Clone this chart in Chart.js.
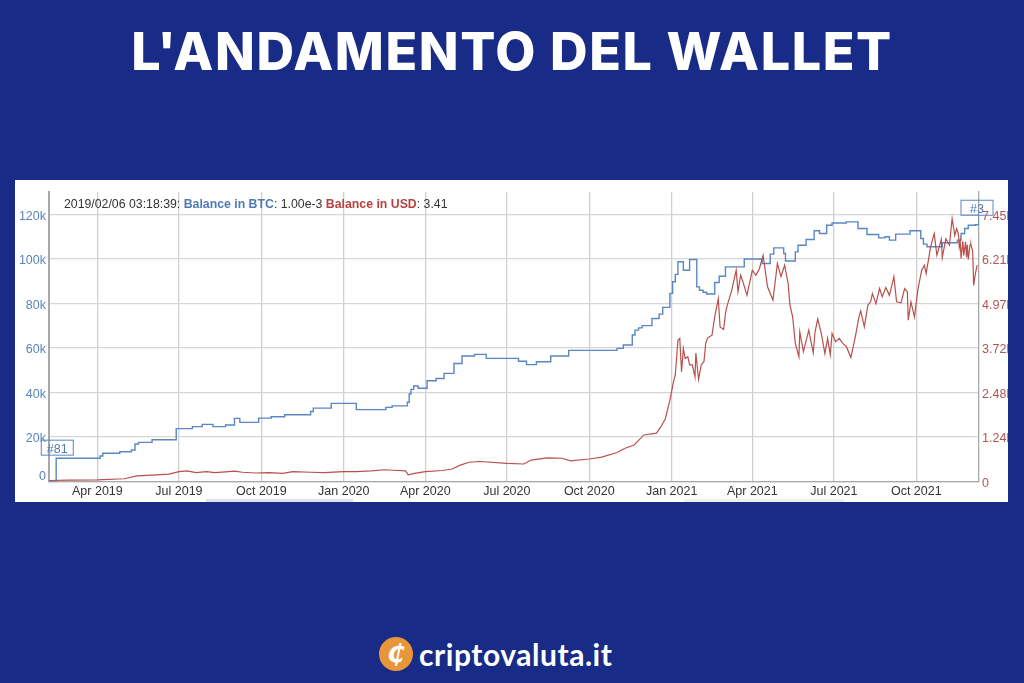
<!DOCTYPE html>
<html>
<head>
<meta charset="utf-8">
<title>L'andamento del wallet</title>
<script src="https://cdn.jsdelivr.net/npm/chart.js@4"></script>
<style>
html, body { margin: 0; padding: 0; background: #182c87; width: 1024px; height: 683px; overflow: hidden; }
#title { position: absolute; left: 0; top: 11px; width: 1024px; text-align: center; color: #fff;
  font: 800 52px Inter, sans-serif; letter-spacing: 1.6px; line-height: 82px; white-space: nowrap; }
#panel { position: absolute; left: 15px; top: 180px; width: 993px; height: 322px; background: #fff; overflow: hidden; }
#panel canvas { position: absolute; left: 0; top: 0; filter: blur(0.35px); }
#legend { position: absolute; left: 49px; top: 17px; font: 12.3px "Liberation Sans", sans-serif; color: #333; white-space: nowrap; }
#legend .b { color: #4f7ab5; font-weight: bold; }
#legend .r { color: #b5433f; font-weight: bold; }
.scroll { position: absolute; top: 319px; height: 3px; background: #dfe2ea; }
#logo { position: absolute; left: 379px; top: 637px; width: 34px; height: 34px; border-radius: 50%; background: #e8963a;
  color: #fff; font: italic bold 25px/34px "DejaVu Sans", sans-serif; text-align: center; }
#brand { position: absolute; left: 419px; top: 634px; color: #fff; font: bold 30px/40px Lato, sans-serif; letter-spacing: .55px; white-space: nowrap; }
</style>
</head>
<body>
<div id="title">L'ANDAMENTO DEL WALLET</div>
<div id="panel">
  <canvas id="walletChart" width="1040" height="322"></canvas>
  <div id="legend">2019/02/06 03:18:39: <span class="b">Balance in BTC</span>: 1.00e-3 <span class="r">Balance in USD</span>: 3.41</div>
  <div class="scroll" style="left:191px;width:147px"></div>
  <div class="scroll" style="left:669px;width:160px;background:#eceef2"></div>
</div>
<div id="logo">₵</div>
<div id="brand">criptovaluta.it</div>

<script>
const xTickDates = ["2019-04-01", "2019-07-01", "2019-10-01", "2020-01-01", "2020-04-01", "2020-07-01", "2020-10-01", "2021-01-01", "2021-04-01", "2021-07-01", "2021-10-01"]
const xTickLabels = ["Apr 2019", "Jul 2019", "Oct 2019", "Jan 2020", "Apr 2020", "Jul 2020", "Oct 2020", "Jan 2021", "Apr 2021", "Jul 2021", "Oct 2021"]

const btcTicks = [0, 20000, 40000, 60000, 80000, 100000, 120000]
const btcTickLabels = ["0", "20k", "40k", "60k", "80k", "100k", "120k"]
const usdTicks = [0, 1.2417, 2.4833, 3.725, 4.9667, 6.2083, 7.45]
const usdTickLabels = ["0", "1.24B", "2.48B", "3.72B", "4.97B", "6.21B", "7.45B"]

// btc balance, each date is where the balance steps to the new value
const btcDates = ["2019-02-06", "2019-02-13", "2019-02-14", "2019-04-04", "2019-04-07", "2019-04-26", "2019-05-09", "2019-05-13", "2019-05-17", "2019-06-01", "2019-06-28", "2019-07-16", "2019-07-27", "2019-08-08", "2019-08-22", "2019-09-01", "2019-09-07", "2019-09-28", "2019-10-12", "2019-10-27", "2019-11-25", "2019-11-28", "2019-12-18",
  "2020-01-15", "2020-02-17", "2020-02-24", "2020-03-12", "2020-03-14", "2020-03-16", "2020-03-19", "2020-03-24", "2020-04-03", "2020-04-13", "2020-04-22", "2020-05-03", "2020-05-09", "2020-05-12", "2020-05-26", "2020-06-08", "2020-07-14", "2020-07-23", "2020-08-03", "2020-08-19", "2020-09-08", "2020-11-01", "2020-11-08", "2020-11-18", "2020-11-21", "2020-11-25", "2020-11-29", "2020-12-10", "2020-12-18", "2020-12-22", "2020-12-30", "2021-01-02", "2021-01-05", "2021-01-08",
  "2021-01-14", "2021-01-21", "2021-01-29", "2021-02-01", "2021-02-05", "2021-02-09", "2021-02-18", "2021-02-23", "2021-03-02", "2021-03-23", "2021-04-12", "2021-04-21", "2021-04-25", "2021-05-06", "2021-05-08", "2021-05-19", "2021-05-22", "2021-05-31", "2021-06-09", "2021-06-15", "2021-06-23", "2021-06-29", "2021-07-15", "2021-07-28", "2021-08-07", "2021-08-20", "2021-08-27", "2021-09-01", "2021-09-08", "2021-09-24", "2021-10-06", "2021-10-09", "2021-10-13", "2021-10-30", "2021-11-16", "2021-11-20", "2021-11-24", "2021-11-28", "2021-12-06", "2021-12-10"]
const btcValues = [1, 1, 10500, 11500, 12700, 13400, 14200, 16900, 17600, 18800, 23800, 24700, 25700, 24700, 25400, 28400, 26600, 28500, 29100, 30000, 31500, 33000, 35100,
  32300, 33300, 34000, 35600, 39300, 41400, 42900, 41900, 45300, 46300, 48600, 53000, 53000, 56400, 57100, 55300, 54000, 52500, 53800, 56400, 58900, 59800, 61300, 65800, 68000, 69000, 70000, 73200, 75200, 78200, 84500, 89700, 93000, 98700,
  94900, 99700, 87400, 85900, 85000, 84200, 89400, 92200, 96400, 99900, 97900, 102100, 104900, 102400, 99000, 103100, 106100, 108700, 112600, 111400, 115100, 116100, 116600, 113600, 110900, 109400, 109900, 108400, 111100, 112600, 109100, 106600, 105400, 107200, 108400, 111400, 113600, 115100, 115300, 120300]

// usd balance in billions
const usdDates = ["2019-02-06", "2019-03-01", "2019-04-01", "2019-05-01", "2019-05-15", "2019-06-01", "2019-06-20", "2019-07-01", "2019-07-10", "2019-07-20", "2019-08-01", "2019-08-10", "2019-08-22", "2019-09-01", "2019-09-10", "2019-09-25", "2019-10-10", "2019-10-25", "2019-11-05", "2019-11-25", "2019-12-10", "2020-01-01",
  "2020-01-15", "2020-02-01", "2020-02-15", "2020-03-01", "2020-03-10", "2020-03-13", "2020-03-20", "2020-04-01", "2020-04-20", "2020-05-01", "2020-05-10", "2020-05-20", "2020-06-01", "2020-07-01", "2020-07-20", "2020-07-28", "2020-08-15", "2020-09-01", "2020-09-10", "2020-10-01", "2020-10-15", "2020-11-01", "2020-11-10", "2020-11-20", "2020-12-01", "2020-12-15", "2020-12-20", "2020-12-25", "2020-12-30",
  "2021-01-03", "2021-01-05", "2021-01-08", "2021-01-10", "2021-01-12", "2021-01-14", "2021-01-16", "2021-01-19", "2021-01-21", "2021-01-24", "2021-01-27", "2021-01-28", "2021-01-31", "2021-02-03", "2021-02-06", "2021-02-08", "2021-02-10", "2021-02-15", "2021-02-18", "2021-02-22", "2021-02-24", "2021-02-28", "2021-03-02", "2021-03-04", "2021-03-09", "2021-03-14", "2021-03-16", "2021-03-19", "2021-03-22", "2021-03-26", "2021-04-01", "2021-04-05", "2021-04-09", "2021-04-13", "2021-04-18", "2021-04-24", "2021-04-29", "2021-05-03", "2021-05-07", "2021-05-11", "2021-05-13", "2021-05-16", "2021-05-19", "2021-05-23", "2021-05-24", "2021-05-28", "2021-06-03", "2021-06-08", "2021-06-10", "2021-06-13", "2021-06-17", "2021-06-21", "2021-06-24", "2021-06-27", "2021-06-29", "2021-07-03", "2021-07-07", "2021-07-11", "2021-07-15", "2021-07-20", "2021-07-25", "2021-07-29", "2021-07-31", "2021-08-04", "2021-08-08", "2021-08-11", "2021-08-13", "2021-08-17", "2021-08-21", "2021-08-24", "2021-08-28", "2021-09-01", "2021-09-06", "2021-09-09", "2021-09-14", "2021-09-18", "2021-09-21", "2021-09-22", "2021-09-25", "2021-09-29", "2021-10-03", "2021-10-07", "2021-10-10", "2021-10-12", "2021-10-17", "2021-10-21", "2021-10-24", "2021-10-29", "2021-10-30", "2021-11-03", "2021-11-07", "2021-11-10", "2021-11-13", "2021-11-15", "2021-11-17", "2021-11-18", "2021-11-19", "2021-11-20", "2021-11-22", "2021-11-23", "2021-11-25", "2021-11-26", "2021-11-27", "2021-11-28", "2021-11-30", "2021-12-01", "2021-12-02", "2021-12-03", "2021-12-04", "2021-12-06", "2021-12-08"]
const usdValues = [0.03, 0.04, 0.05, 0.08, 0.16, 0.18, 0.21, 0.28, 0.3, 0.25, 0.28, 0.25, 0.27, 0.29, 0.26, 0.24, 0.25, 0.23, 0.28, 0.26, 0.25, 0.28,
  0.28, 0.3, 0.33, 0.31, 0.3, 0.19, 0.23, 0.28, 0.31, 0.35, 0.46, 0.54, 0.56, 0.51, 0.49, 0.6, 0.66, 0.65, 0.58, 0.63, 0.68, 0.81, 0.93, 1.02, 1.3, 1.35, 1.53, 1.76, 2.27,
  2.78, 2.97, 3.94, 3.99, 3.06, 3.71, 3.43, 3.48, 3.25, 3.25, 2.92, 3.58, 2.85, 3.25, 3.34, 3.85, 4.0, 4.08, 4.59, 5.1, 4.31, 4.24, 4.69, 4.91, 5.33, 5.89, 5.29, 5.75, 5.53, 5.19, 5.89, 5.75, 5.94, 6.31, 5.43, 5.06, 6.08, 5.71, 6.03, 5.52, 4.92, 4.59, 3.85, 3.48, 4.17, 3.62, 4.22, 3.59, 4.17, 4.53, 4.13, 3.57, 3.99, 3.53, 4.13, 3.9, 3.99, 3.85, 3.76, 3.46, 4.04, 4.59, 4.76, 4.31, 4.92, 5.01, 5.24, 4.96, 5.38, 5.15, 5.41, 5.19, 5.71, 5.01, 4.98, 5.38, 5.29, 4.5, 5.01, 4.59, 5.38, 5.89, 6.03, 5.8, 6.54, 6.91, 6.31, 6.75, 6.24, 6.77, 6.59, 7.33, 6.86, 7.05, 6.9, 6.54, 6.7, 6.22, 6.7, 6.3, 6.68, 6.25, 6.6, 6.19, 6.6, 6.62, 6.5, 6.4, 5.47, 5.8, 6.03]

const xStart = "2019-02-06"
const xEnd = "2021-12-10"
const btcMax = 130000
const usdMax = 8.07

function toPoints(dates, values) {
    return dates.map((d, i) => ({ x: Date.parse(d), y: values[i] }))
}

function setTicks(values) {
    return function (scale) {
        scale.ticks = values.map(v => ({ value: v }))
    }
}

// little #81 and #3 flags sitting on the blue line, plus the 0 label that sits a bit above the axis
const flagPlugin = {
    id: "flags",
    afterDatasetsDraw(chart) {
        const c = chart.ctx
        const x = chart.scales.x
        const y = chart.scales.yBtc
        const flags = [
            { text: "#81", date: "2019-02-13", value: 18600, w: 32, h: 15, dx: -14 },
            { text: "#3", date: "2021-12-10", value: 126300, w: 32, h: 15, dx: -18 }
        ]
        c.save()
        c.font = "12.5px 'Liberation Sans'"
        c.textAlign = "center"
        c.textBaseline = "middle"
        flags.forEach(f => {
            const left = x.getPixelForValue(Date.parse(f.date)) + f.dx
            const top = y.getPixelForValue(f.value)
            c.strokeStyle = "#5b86c0"
            c.lineWidth = 1
            c.strokeRect(left, top, f.w, f.h)
            c.fillStyle = "#4f7ab5"
            c.fillText(f.text, left + f.w / 2, top + f.h / 2 + 2)
        })
        c.fillStyle = "#5b84bd"
        c.textAlign = "right"
        c.fillText(btcTickLabels[0], x.left - 3, y.getPixelForValue(btcTicks[0]) - 5)
        c.restore()
    }
}

const walletChart = new Chart(document.getElementById("walletChart"), {
    type: "line",
    data: {
        datasets: [
            { label: "Balance in USD", yAxisID: "yUsd", data: toPoints(usdDates, usdValues), borderColor: "#b8504c", borderWidth: 1.2, pointRadius: 0, tension: 0 },
            { label: "Balance in BTC", yAxisID: "yBtc", data: toPoints(btcDates, btcValues), borderColor: "#5a86c2", borderWidth: 1.4, pointRadius: 0, stepped: true }
        ]
    },
    options: {
        responsive: false,
        animation: false,
        layout: { padding: { top: 12, left: 0, right: 0, bottom: 0 } },
        plugins: { legend: { display: false }, tooltip: { enabled: false } },
        scales: {
            x: {
                type: "linear",
                min: Date.parse(xStart),
                max: Date.parse(xEnd),
                afterBuildTicks: setTicks(xTickDates.map(d => Date.parse(d))),
                afterFit(scale) { scale.height = 20.4 },
                ticks: {
                    autoSkip: false, maxRotation: 0, padding: 2, color: "#333",
                    font: { family: "Liberation Sans", size: 12.5 },
                    callback: (v, i) => xTickLabels[i]
                },
                grid: { color: "#cfcfcf", lineWidth: 1.3, drawTicks: false },
                border: { color: "#a8a8a8", width: 1.3 }
            },
            yBtc: {
                position: "left",
                min: 0,
                max: btcMax,
                afterBuildTicks: setTicks(btcTicks),
                afterFit(scale) { scale.width = 34 },
                ticks: {
                    padding: 3, labelOffset: 2, color: "#5b84bd",
                    font: { family: "Liberation Sans", size: 12.5 },
                    callback: (v, i) => i === 0 ? "" : btcTickLabels[i]
                },
                grid: { color: "#d6d6d6", lineWidth: 1.3, drawTicks: false },
                border: { color: "#a8a8a8", width: 2 }
            },
            yUsd: {
                position: "right",
                min: 0,
                max: usdMax,
                afterBuildTicks: setTicks(usdTicks),
                afterFit(scale) { scale.width = 76 },
                ticks: {
                    padding: 3, labelOffset: 2, color: "#b5534f",
                    font: { family: "Liberation Sans", size: 12.5 },
                    callback: (v, i) => usdTickLabels[i]
                },
                grid: { display: false, drawTicks: false },
                border: { color: "#a8a8a8", width: 1.3 }
            }
        }
    },
    plugins: [flagPlugin]
})
</script>
</body>
</html>
